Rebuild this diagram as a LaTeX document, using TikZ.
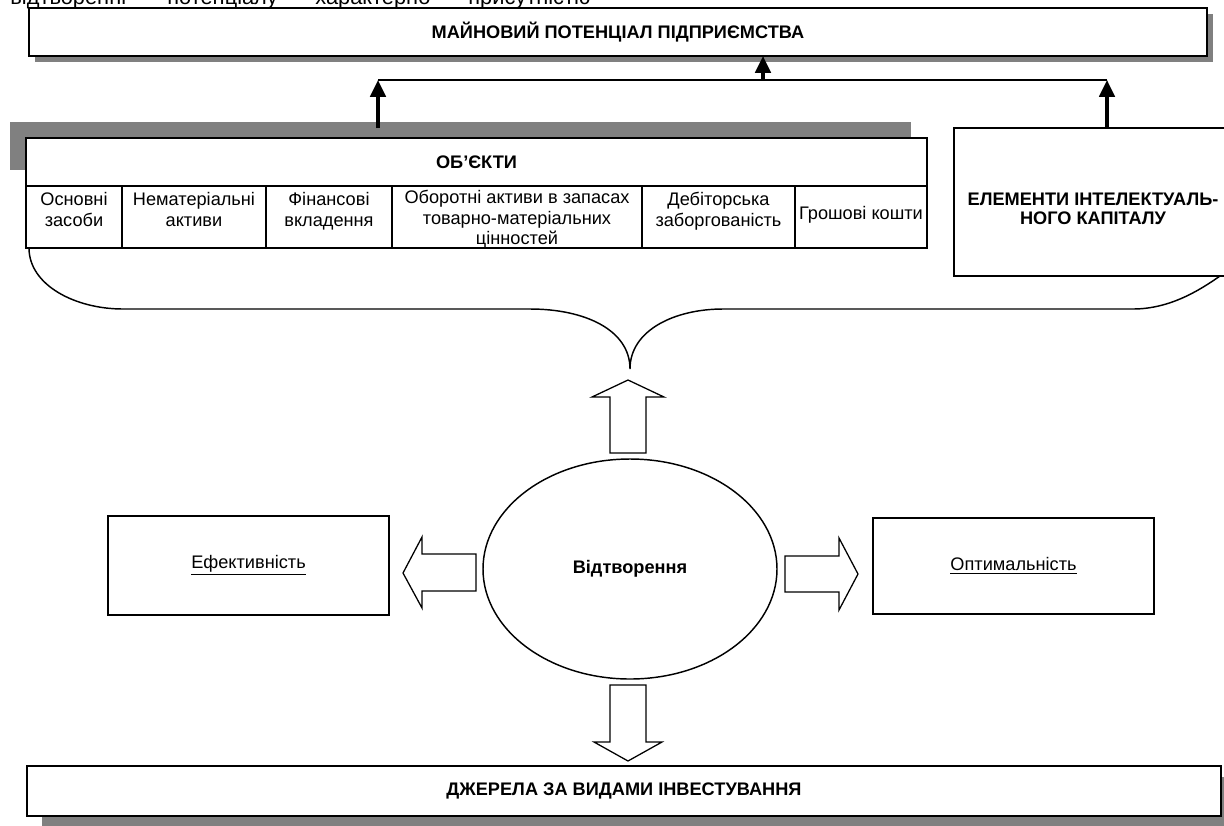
\documentclass[tikz,border=0pt]{standalone}
\usepackage{fontspec}
\setmainfont{Liberation Sans}
\usetikzlibrary{arrows.meta,shadows,shapes.geometric,calc}
\tikzset{box/.style={draw, fill=white, line width=0.8pt, inner sep=0pt, outer sep=0pt},
         boldbox/.style={box, line width=1.1pt, font=\bfseries},
         cell/.style={box, line width=0.7pt},
         celltext/.style={align=center, inner sep=0pt, font=\fontsize{10}{11.3}\selectfont},
         greyshadow/.style={drop shadow={shadow xshift=#1, fill=black!50, opacity=1}},
         uparrow/.style={line width=1.8pt, -{Triangle[width=8.5pt,length=9.3pt]}},
         link/.style={line width=1pt},
         fat/.style={draw, fill=white, line width=0.7pt, line join=miter},
         brace/.style={line width=0.8pt}}

\begin{document}
\begin{tikzpicture}[x=0.55pt, y=-0.55pt]
  \useasboundingbox (0,0) rectangle (1224,825);
  \foreach \n/\x/\word in {1/10/відтворенні, 2/167/потенціалу, 3/315/характерно, 4/468/присутністю}
    \node[anchor=base west, inner sep=0pt, font=\fontsize{12}{14}\selectfont] (w\n) at (\x,4) {\word};
  \node[boldbox, minimum width=647.9pt, minimum height=26.4pt,
        drop shadow={shadow xshift=3.3pt, shadow yshift=-3.3pt, fill=black!50, opacity=1}] (pot) at (618,32) {МАЙНОВИЙ ПОТЕНЦІАЛ ПІДПРИЄМСТВА};
  \node[box, font=\bfseries, minimum width=495.55pt, minimum height=26.4pt,
        drop shadow={shadow xshift=-9pt, shadow yshift=8.8pt, fill=black!50, opacity=1}] (obj) at (476.5,162) {ОБ’ЄКТИ};
  \foreach \n/\cx/\w/\dy/\txt in {1/74/96/6/{Основні\\засоби},
                                 2/194/144/6/{Нематеріальні\\активи},
                                 3/329/126/6/{Фінансові\\вкладення},
                                 4/517/250/4/{Оборотні активи в запасах\\товарно-матеріальних\\цінностей},
                                 5/718.5/153/6/{Дебіторська\\заборгованість},
                                 6/861/132/20/{Грошові кошти}}
  {
    \node[cell, minimum width=\w*0.55pt, minimum height=34.1pt] (c\n) at (\cx,217) {};
    \node[celltext, anchor=north] (t\n) at ($(c\n.north)+(0,\dy)$) {\txt};
  }
  \node[box, minimum width=152.9pt, minimum height=81.4pt] (el) at (1093,202) {};
  \node[font=\fontsize{10}{10.1}\selectfont\bfseries, align=center, inner sep=0pt] (eltext) at (1093,209) {ЕЛЕМЕНТИ ІНТЕЛЕКТУАЛЬ-\\НОГО КАПІТАЛУ};
  \node[draw, ellipse, line width=0.8pt, minimum width=161.7pt, minimum height=121pt, inner sep=0pt, font=\bfseries] (rep) at (630,569) {Відтворення};
  \node[box, minimum width=154.55pt, minimum height=54.45pt] (eff) at (248.5,565.5) {\underline{Ефективність}};
  \node[box, minimum width=154.55pt, minimum height=52.8pt] (opt) at (1013.5,566) {\underline{Оптимальність}};
  \node[boldbox, minimum width=656.7pt, minimum height=27.5pt,
        drop shadow={shadow xshift=8pt, shadow yshift=-6pt, fill=black!50, opacity=1}] (src) at (624,791) {ДЖЕРЕЛА ЗА ВИДАМИ ІНВЕСТУВАННЯ};

  \coordinate (j1) at (378,80);
  \coordinate (j2) at (1107,80);
  \coordinate (jm) at (763,80);
  \draw[link] (j1) -- (j2);
  \draw[uparrow] (j1 |- el.north) -- (j1);
  \draw[uparrow] (j2 |- el.north) -- (j2);
  \draw[uparrow] (jm) -- (jm |- pot.south);

  \coordinate (tip) at (630,369);
  \draw[brace] ($(c1.south west)+(3,0)$) .. controls (29,285) and (75,309) .. (123,309) -- (530,309)
        .. controls (585,309) and (630,330) .. (tip)
        .. controls (630,330) and (675,309) .. (723,309) -- (1133,309)
        .. controls (1170,309) and (1200,290) .. ($(el.south east)+(-12,0)$);

  \draw[fat] (610,453) -- (610,397) -- (592,397) -- (628,380) -- (664,397) -- (646,397) -- (646,453) -- cycle;
  \draw[fat] (476,554) -- (422,554) -- (422,537) -- (403,573) -- (422,608) -- (422,591) -- (476,591) -- cycle;
  \draw[fat] (785,556) -- (839,556) -- (839,538) -- (858,574) -- (839,610) -- (839,592) -- (785,592) -- cycle;
  \draw[fat] (610,685) -- (610,742) -- (594,742) -- (628,761) -- (662,742) -- (646,742) -- (646,685) -- cycle;
\end{tikzpicture}
\end{document}
